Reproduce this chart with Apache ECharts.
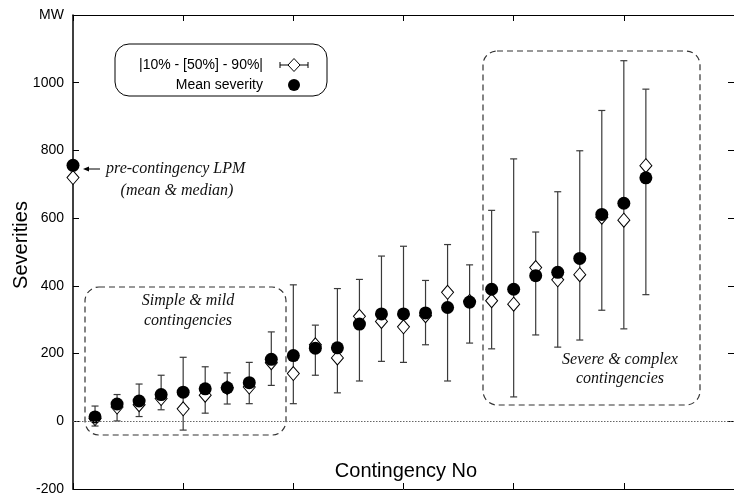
<!DOCTYPE html>
<html>
<head>
<meta charset="utf-8">
<title>Contingency severities</title>
<script src="https://cdn.jsdelivr.net/npm/echarts@6/dist/echarts.min.js"></script>
<style>
  html, body { margin: 0; padding: 0; background: #fff; }
  #chart { width: 734px; height: 496px; }
</style>
</head>
<body>
<div id="chart"></div>
<script>
// Contingency numbers (x axis) and the severities (MW)
const contingencies = [1, 2, 3, 4, 5, 6, 7, 8, 9, 10, 11, 12, 13, 14, 15, 16, 17, 18, 19, 20, 21, 22, 23, 24, 25, 26];
const meanSeverity = [13, 51, 60, 79, 86, 96, 99, 114, 183, 194, 216, 217, 287, 317, 317, 320, 336, 352, 390, 390, 430, 440, 481, 611, 644, 719];
const medianSeverity = [8, 42, 49, 67, 37, 77, 99, 101, 173, 141, 226, 187, 310, 295, 279, 312, 381, 354, 356, 346, 454, 418, 433, 603, 594, 755];
const p10Severity = [-14, 1, 14, 34, -26, 24, 51, 52, 106, 52, 136, 84, 119, 177, 174, 226, 119, 231, 214, 72, 255, 219, 240, 328, 273, 374];
const p90Severity = [45, 79, 110, 136, 189, 161, 143, 174, 264, 403, 284, 392, 419, 488, 517, 416, 522, 462, 623, 775, 559, 678, 799, 918, 1065, 981];

// pre-contingency LPM, plotted at x = 0
const preContingency = { x: 0, mean: 756, median: 720 };

// y tick labels (top one is the unit)
const yTickLabels = { '-200': '-200', '0': '0', '200': '200', '400': '400', '600': '600', '800': '800', '1000': '1000', '1200': 'MW' };

const SANS = "'Liberation Sans', Arial, Helvetica, sans-serif";
const SERIF = "'Liberation Serif', 'Times New Roman', serif";

const chart = echarts.init(document.getElementById('chart'), null, { renderer: 'canvas' });

const errorBarData = contingencies.map((c, i) => [c, p10Severity[i], p90Severity[i]]);
const medianData = contingencies.map((c, i) => [c, medianSeverity[i]]);
const meanData = contingencies.map((c, i) => [c, meanSeverity[i]]);

function renderErrorBar(params, api) {
  const x = api.value(0);
  const lo = api.coord([x, api.value(1)]);
  const hi = api.coord([x, api.value(2)]);
  const w = 3.5;
  const style = { stroke: '#3a3a3a', lineWidth: 1.2 };
  return {
    type: 'group',
    children: [
      { type: 'line', shape: { x1: lo[0], y1: lo[1], x2: hi[0], y2: hi[1] }, style },
      { type: 'line', shape: { x1: lo[0] - w, y1: lo[1], x2: lo[0] + w, y2: lo[1] }, style },
      { type: 'line', shape: { x1: hi[0] - w, y1: hi[1], x2: hi[0] + w, y2: hi[1] }, style }
    ]
  };
}

const axisLine = (width = 1) => ({ show: true, onZero: false, lineStyle: { color: '#000', width } });
const innerTick = () => ({ show: true, inside: true, length: 6, lineStyle: { color: '#000' } });

// dashed rounded frames + italic notes
const dashStyle = { fill: 'none', stroke: '#333', lineWidth: 1.2, lineDash: [6, 4] };
const noteStyle = (text, x, y) => ({
  type: 'text', x, y,
  style: { text, fill: '#111', font: 'italic 16px ' + SERIF, align: 'center', verticalAlign: 'middle' },
  z: 20
});

const option = {
  animation: false,
  backgroundColor: '#fff',
  grid: { left: 73, right: -2, top: 15, bottom: 5 },
  xAxis: [
    {
      type: 'value', min: 0, max: 30, interval: 5, position: 'bottom',
      axisLine: axisLine(), axisTick: innerTick(), axisLabel: { show: false }, splitLine: { show: false }
    },
    {
      type: 'value', min: 0, max: 30, interval: 5, position: 'top',
      axisLine: axisLine(), axisTick: innerTick(), axisLabel: { show: false }, splitLine: { show: false }
    }
  ],
  yAxis: [
    {
      type: 'value', min: -200, max: 1200, interval: 200, position: 'left',
      axisLine: axisLine(1.5), axisTick: innerTick(), splitLine: { show: false },
      axisLabel: {
        color: '#000', fontFamily: SANS, fontSize: 14, margin: 9,
        formatter: v => yTickLabels[String(v)] ?? String(v)
      }
    },
    {
      type: 'value', min: -200, max: 1200, interval: 200, position: 'right',
      axisLine: axisLine(), axisTick: innerTick(), axisLabel: { show: false }, splitLine: { show: false }
    }
  ],
  series: [
    {
      name: 'range',
      type: 'custom',
      renderItem: renderErrorBar,
      data: errorBarData,
      encode: { x: 0, y: [1, 2] },
      clip: false,
      z: 2,
      markLine: {
        silent: true,
        symbol: 'none',
        label: { show: false },
        lineStyle: { color: '#666', type: [1.5, 1.5], width: 1 },
        data: [{ yAxis: 0 }]
      }
    },
    {
      name: '|10% - [50%] - 90%|',
      type: 'scatter',
      symbol: 'diamond',
      symbolSize: [12, 14],
      data: medianData.concat([[preContingency.x, preContingency.median]]),
      itemStyle: { color: '#fff', borderColor: '#000', borderWidth: 1, opacity: 1 },
      clip: false,
      z: 3
    },
    {
      name: 'Mean severity',
      type: 'scatter',
      symbol: 'circle',
      symbolSize: 13,
      data: meanData.concat([[preContingency.x, preContingency.mean]]),
      itemStyle: { color: '#000', opacity: 1 },
      clip: false,
      z: 4
    }
  ],
  graphic: [
    // axis titles
    {
      type: 'text', x: 21, y: 245, rotation: Math.PI / 2,
      style: { text: 'Severities', fill: '#000', font: '20px ' + SANS, align: 'center', verticalAlign: 'middle' }
    },
    {
      type: 'text', x: 406, y: 471,
      style: { text: 'Contingency No', fill: '#000', font: '20px ' + SANS, align: 'center', verticalAlign: 'middle' }
    },
    // legend box
    {
      type: 'rect', shape: { x: 115, y: 44, width: 212, height: 52, r: 14 },
      style: { fill: '#fff', stroke: '#000', lineWidth: 1 }, z: 10
    },
    {
      type: 'text', x: 263, y: 65, z: 11,
      style: { text: '|10% - [50%] - 90%|', fill: '#000', font: '14px ' + SANS, align: 'right', verticalAlign: 'middle' }
    },
    {
      type: 'text', x: 263, y: 85, z: 11,
      style: { text: 'Mean severity', fill: '#000', font: '14px ' + SANS, align: 'right', verticalAlign: 'middle' }
    },
    { type: 'line', shape: { x1: 280, y1: 65, x2: 308, y2: 65 }, style: { stroke: '#000', lineWidth: 1 }, z: 11 },
    { type: 'line', shape: { x1: 280, y1: 62, x2: 280, y2: 68 }, style: { stroke: '#000', lineWidth: 1 }, z: 11 },
    { type: 'line', shape: { x1: 308, y1: 62, x2: 308, y2: 68 }, style: { stroke: '#000', lineWidth: 1 }, z: 11 },
    {
      type: 'polygon', shape: { points: [[294, 58.5], [300, 65], [294, 71.5], [288, 65]] },
      style: { fill: '#fff', stroke: '#000', lineWidth: 1 }, z: 12
    },
    { type: 'circle', shape: { cx: 294, cy: 85, r: 6 }, style: { fill: '#000' }, z: 11 },
    // pre-contingency note with arrow
    { type: 'line', shape: { x1: 100, y1: 169, x2: 87, y2: 169 }, style: { stroke: '#000', lineWidth: 1 }, z: 11 },
    { type: 'polygon', shape: { points: [[83, 169], [89, 166.5], [89, 171.5]] }, style: { fill: '#000' }, z: 11 },
    {
      type: 'text', x: 106, y: 169, z: 20,
      style: { text: 'pre-contingency LPM', fill: '#111', font: 'italic 16px ' + SERIF, align: 'left', verticalAlign: 'middle' }
    },
    noteStyle('(mean & median)', 177, 191),
    // simple & mild frame
    { type: 'rect', shape: { x: 85, y: 287, width: 201, height: 148, r: 14 }, style: dashStyle, z: 1 },
    noteStyle('Simple & mild', 188, 301),
    noteStyle('contingencies', 188, 321),
    // severe & complex frame
    { type: 'rect', shape: { x: 483, y: 51, width: 217, height: 354, r: 14 }, style: dashStyle, z: 1 },
    noteStyle('Severe & complex', 620, 360),
    noteStyle('contingencies', 620, 379)
  ]
};

chart.setOption(option);
</script>
</body>
</html>
